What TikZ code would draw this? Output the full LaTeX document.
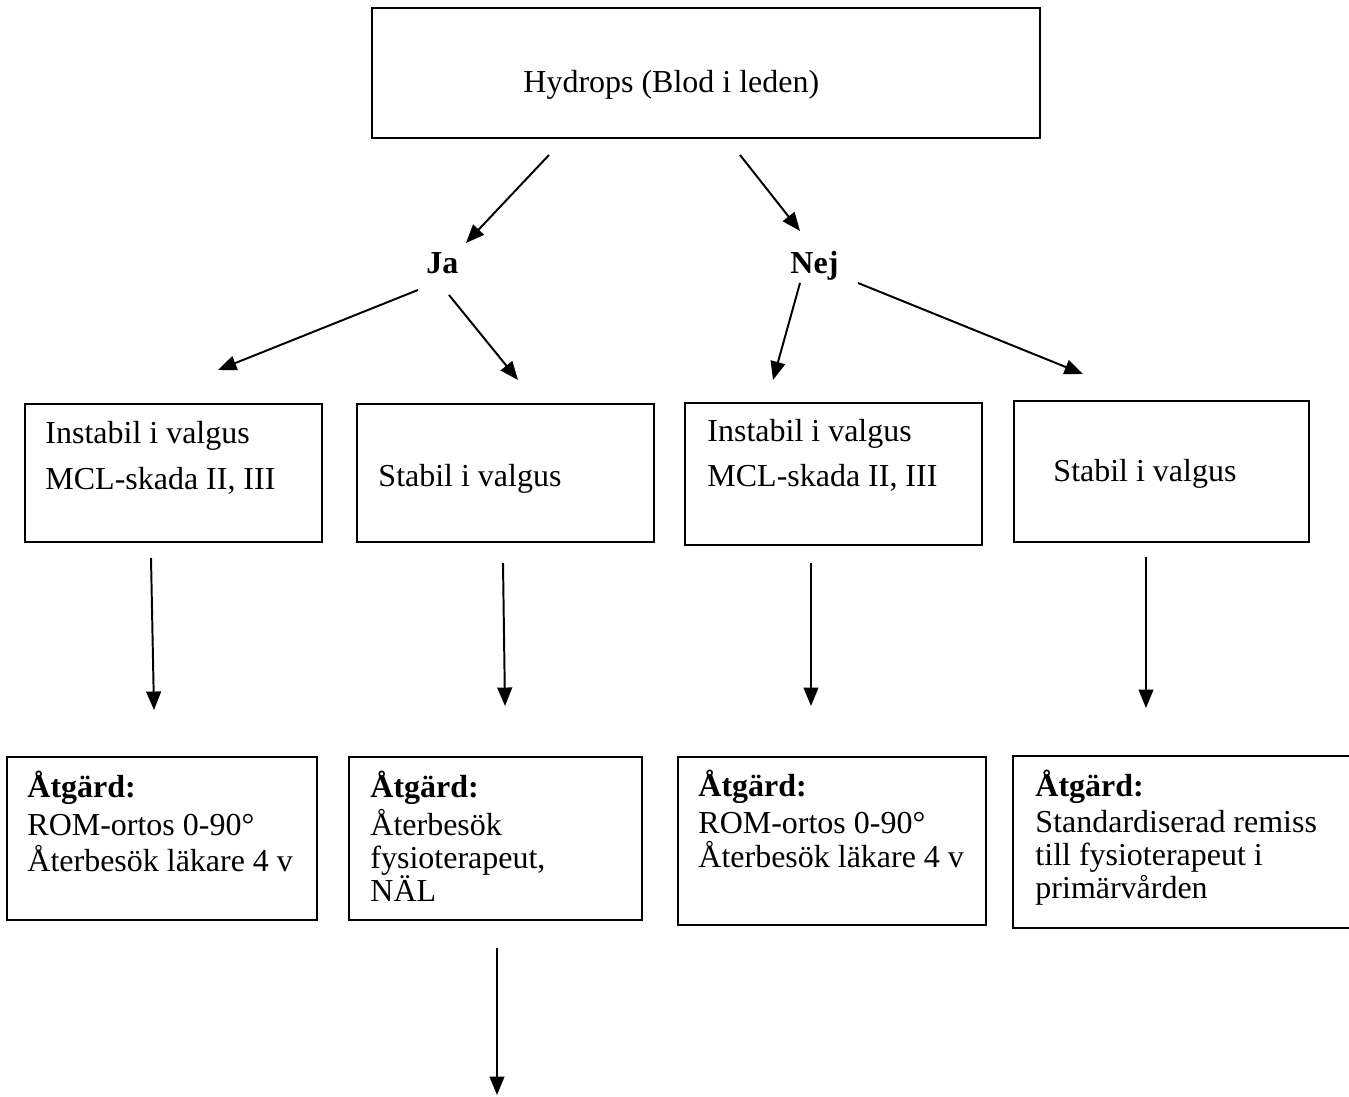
\documentclass[tikz,border=0pt]{standalone}
\usepackage{fontspec}
\setmainfont{Liberation Serif}
\usetikzlibrary{arrows.meta,fit}
\begin{document}
\begin{tikzpicture}[x=0.4066pt,y=-0.4066pt,
  box/.style={draw, line width=0.8pt, inner sep=0pt, rectangle},
  txt/.style={anchor=base west, inner sep=0pt, font=\fontsize{13}{15}\selectfont},
  btxt/.style={txt, font=\fontsize{13}{15}\selectfont\bfseries},
  conn/.style={line width=0.8pt, -{Triangle[length=7.5pt,width=6pt]}}]
\useasboundingbox (0,0) rectangle (1349,1097);

% boxes
\node[box, fit={(372,8)(1040,138)}] (top) {};
\node[box, fit={(25,404)(322,542)}] (b1) {};
\node[box, fit={(357,404)(654,542)}] (b2) {};
\node[box, fit={(685,403)(982,545)}] (b3) {};
\node[box, fit={(1014,401)(1309,542)}] (b4) {};
\node[box, fit={(7,757)(317,920)}] (c1) {};
\node[box, fit={(349,757)(642,920)}] (c2) {};
\node[box, fit={(678,757)(986,925)}] (c3) {};
\node[box, fit={(1013,756)(1365,928)}] (c4) {};

% texts
\node[txt] (tTop) at (523,93) {Hydrops (Blod i leden)};
\node[btxt] (ja) at (426,274) {Ja};
\node[btxt] (nej) at (790,274) {Nej};

\node[txt] (tb1a) at (45,444) {Instabil i valgus};
\node[txt] (tb1b) at (45,490) {MCL-skada II, III};
\node[txt] (tb2) at (378,487) {Stabil i valgus};
\node[txt] (tb3a) at (707,442) {Instabil i valgus};
\node[txt] (tb3b) at (707,487) {MCL-skada II, III};
\node[txt] (tb4) at (1053,482) {Stabil i valgus};

\node[btxt] (tc1h) at (27,798) {Åtgärd:};
\node[txt] (tc1a) at (27,836) {ROM-ortos 0-90°};
\node[txt] (tc1b) at (27,872) {Återbesök läkare 4 v};

\node[btxt] (tc2h) at (370,798) {Åtgärd:};
\node[txt] (tc2a) at (370,836) {Återbesök};
\node[txt] (tc2b) at (370,869) {fysioterapeut,};
\node[txt] (tc2c) at (370,902) {NÄL};

\node[btxt] (tc3h) at (698,797) {Åtgärd:};
\node[txt] (tc3a) at (698,834) {ROM-ortos 0-90°};
\node[txt] (tc3b) at (698,868) {Återbesök läkare 4 v};

\node[btxt] (tc4h) at (1035,797) {Åtgärd:};
\node[txt] (tc4a) at (1035,833) {Standardiserad remiss};
\node[txt] (tc4b) at (1035,866) {till fysioterapeut i};
\node[txt] (tc4c) at (1035,899) {primärvården};

% connector end points
\coordinate (p1s) at (549,155);  \coordinate (p1e) at (466,243);
\coordinate (p2s) at (740,155);  \coordinate (p2e) at (800,231);
\coordinate (p3s) at (418,290);  \coordinate (p3e) at (218,370);
\coordinate (p4s) at (449,295);  \coordinate (p4e) at (518,380);
\coordinate (p5s) at (800,283);  \coordinate (p5e) at (773,380);
\coordinate (p6s) at (858,283);  \coordinate (p6e) at (1083,374);
\coordinate (q1s) at (151,558);  \coordinate (q1e) at (154,710);
\coordinate (q2s) at (503,563);  \coordinate (q2e) at (505,706);
\coordinate (q3s) at (811,563);  \coordinate (q3e) at (811,706);
\coordinate (q4s) at (1146,557); \coordinate (q4e) at (1146,708);
\coordinate (r1s) at (497,948);  \coordinate (r1e) at (497,1095);

\draw[conn] (p1s) -- (p1e);
\draw[conn] (p2s) -- (p2e);
\draw[conn] (p3s) -- (p3e);
\draw[conn] (p4s) -- (p4e);
\draw[conn] (p5s) -- (p5e);
\draw[conn] (p6s) -- (p6e);
\draw[conn] (q1s) -- (q1e);
\draw[conn] (q2s) -- (q2e);
\draw[conn] (q3s) -- (q3e);
\draw[conn] (q4s) -- (q4e);
\draw[conn] (r1s) -- (r1e);
\end{tikzpicture}
\end{document}
